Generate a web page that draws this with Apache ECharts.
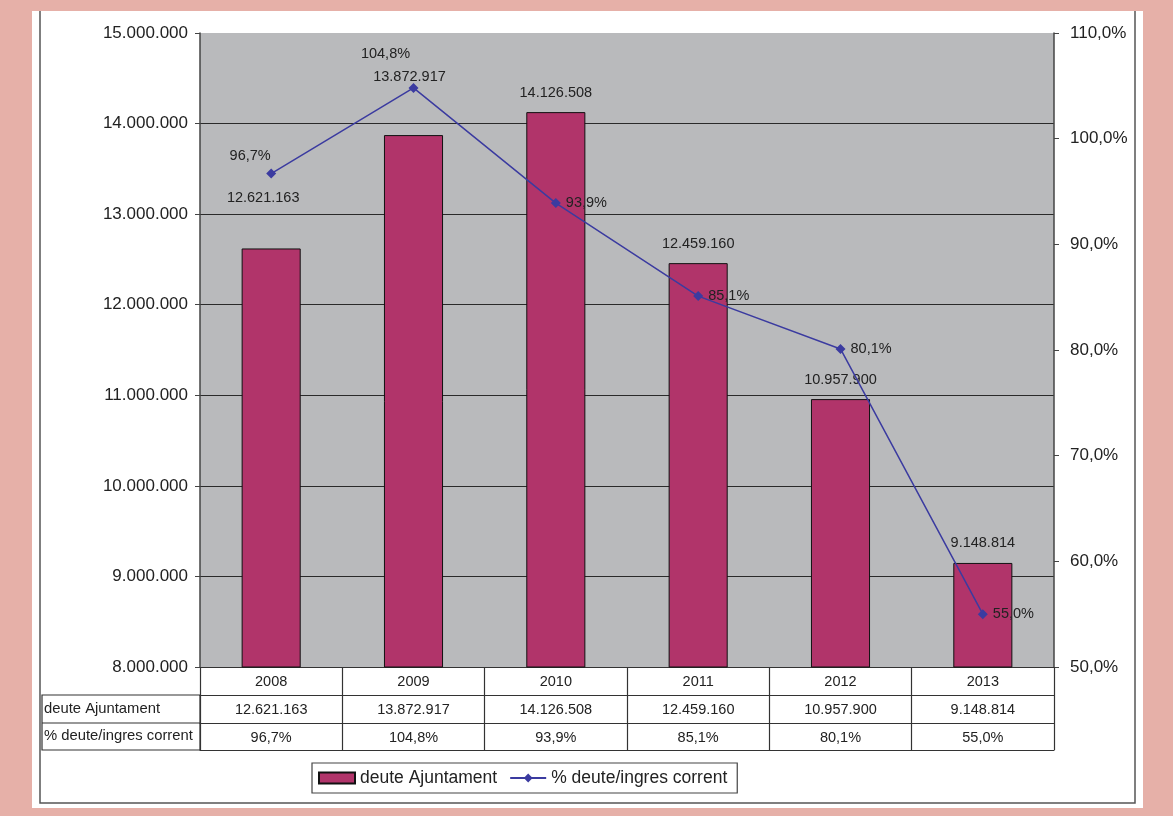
<!DOCTYPE html>
<html>
<head>
<meta charset="utf-8">
<script src="https://cdn.jsdelivr.net/npm/echarts@6/dist/echarts.min.js"></script>
<style>
html,body{margin:0;padding:0;background:#e6b0a8;}
#c{width:1173px;height:816px;}
</style>
</head>
<body>
<div id="c"></div>
<script>
// ---- data ----
const years = ['2008', '2009', '2010', '2011', '2012', '2013'];
const debt = [12621163, 13872917, 14126508, 12459160, 10957900, 9148814];
const ratio = [96.7, 104.8, 93.9, 85.1, 80.1, 55.0];
const leftTicks = { min: 8000000, max: 15000000, interval: 1000000 };
const rightTicks = { min: 50, max: 110, interval: 10 };
const seriesNames = ['deute Ajuntament', '% deute/ingres corrent'];

// ---- styles (label nudges, not data) ----
const barLabelOffsets = [[-8, -31], [-4, -39], [0, 0], [0, 0], [0, 0], [0, 0]];
const lineLabelPos = ['top', 'top', 'right', 'right', 'right', 'right'];
const lineLabelOffsets = [[-21, 0], [-28, -16], [0, 0], [0, 0], [0, 0], [0, 0]];

const FONT = "'Liberation Sans', Arial, sans-serif";
const fmtNum = n => String(Math.round(n)).replace(/\B(?=(\d{3})+(?!\d))/g, '.');
const fmtPct = v => v.toFixed(1).replace('.', ',') + '%';

const chart = echarts.init(document.getElementById('c'), null, { renderer: 'canvas' });

const gridBox = { left: 200, right: 119, top: 33, bottom: 149 };
const lineCol = '#333';

function tableAxis(offset, formatter, showLabel) {
  return {
    type: 'category', data: years, gridIndex: 0, position: 'bottom', offset: offset,
    axisLine: { show: true, lineStyle: { color: lineCol, width: 1.2 } },
    axisTick: { show: false },
    axisLabel: { show: showLabel, formatter: formatter, fontSize: 14.5, fontFamily: FONT, color: '#222', margin: 7 },
    splitLine: { show: false }
  };
}

const option = {
  backgroundColor: '#e6b0a8',
  animation: false,
  textStyle: { fontFamily: FONT },
  graphic: [
    { type: 'rect', z: -10, shape: { x: 32, y: 11, width: 1111, height: 797 }, style: { fill: '#ffffff' } },
    { type: 'polyline', z: -9, shape: { points: [[40, 11], [40, 803], [1135, 803], [1135, 11]] },
      style: { stroke: '#555', lineWidth: 1.5, fill: null } },
    { type: 'rect', shape: { x: 42, y: 695, width: 158, height: 55 }, style: { stroke: lineCol, lineWidth: 1.2, fill: null } },
    { type: 'line', shape: { x1: 42, y1: 723, x2: 200, y2: 723 }, style: { stroke: lineCol, lineWidth: 1.2 } },
    { type: 'text', left: 44, top: 701, style: { text: seriesNames[0], font: '14.8px ' + FONT, fill: '#222' } },
    { type: 'text', left: 44, top: 728, style: { text: seriesNames[1], font: '14.8px ' + FONT, fill: '#222' } }
  ],
  grid: Object.assign({ show: true, backgroundColor: '#b9babc', borderWidth: 0 }, gridBox),
  legend: {
    left: 312, top: 763,
    padding: [6, 10, 6, 6],
    backgroundColor: '#fff', borderColor: '#444', borderWidth: 1.2,
    itemWidth: 36, itemHeight: 11, itemGap: 12,
    textStyle: { fontSize: 17.5, fontFamily: FONT, color: '#222' },
    data: [
      { name: seriesNames[0], icon: 'rect' },
      { name: seriesNames[1] }
    ]
  },
  xAxis: [
    {
      type: 'category', data: years, position: 'bottom',
      axisLine: { show: true, lineStyle: { color: lineCol, width: 1.2 } },
      axisTick: { show: true, length: 83, lineStyle: { color: lineCol, width: 1.2 } },
      axisLabel: { fontSize: 14.5, fontFamily: FONT, color: '#222', margin: 7 },
      splitLine: { show: false }
    },
    tableAxis(28, (v, i) => fmtNum(debt[i]), true),
    tableAxis(56, (v, i) => fmtPct(ratio[i]), true),
    tableAxis(83, '', false)
  ],
  yAxis: [
    {
      type: 'value', position: 'left',
      min: leftTicks.min, max: leftTicks.max, interval: leftTicks.interval,
      axisLine: { show: true, lineStyle: { color: '#444', width: 1.5 } },
      axisTick: { show: true, length: 5, lineStyle: { color: '#444' } },
      axisLabel: { formatter: v => fmtNum(v), fontSize: 17, fontFamily: FONT, color: '#222', margin: 12 },
      splitLine: { show: true, showMaxLine: false, lineStyle: { color: '#2a2a2a', width: 1.2 } }
    },
    {
      type: 'value', position: 'right',
      min: rightTicks.min, max: rightTicks.max, interval: rightTicks.interval,
      axisLine: { show: true, lineStyle: { color: '#444', width: 1.5 } },
      axisTick: { show: true, length: 5, lineStyle: { color: '#444' } },
      axisLabel: { formatter: v => fmtPct(v), fontSize: 17, fontFamily: FONT, color: '#222', margin: 16 },
      splitLine: { show: false }
    }
  ],
  series: [
    {
      name: seriesNames[0], type: 'bar', xAxisIndex: 0, yAxisIndex: 0,
      barWidth: '41.5%',
      itemStyle: { color: '#b1346a', borderColor: '#111', borderWidth: 1 },
      label: { show: true, position: 'top', distance: 12, fontSize: 14.5, fontFamily: FONT, color: '#222',
        formatter: p => fmtNum(p.value) },
      data: debt.map((v, i) => ({ value: v, label: { offset: barLabelOffsets[i] } })),
      z: 2
    },
    {
      name: seriesNames[1], type: 'line', xAxisIndex: 0, yAxisIndex: 1,
      symbol: 'diamond', symbolSize: 10,
      lineStyle: { color: '#3b3ba0', width: 1.5 },
      itemStyle: { color: '#3b3ba0' },
      label: { show: true, distance: 5, fontSize: 14.5, fontFamily: FONT, color: '#222',
        formatter: p => fmtPct(p.value) },
      data: ratio.map((v, i) => ({ value: v, label: { position: lineLabelPos[i], offset: lineLabelOffsets[i] } })),
      z: 3
    }
  ]
};
chart.setOption(option);
</script>
</body>
</html>
